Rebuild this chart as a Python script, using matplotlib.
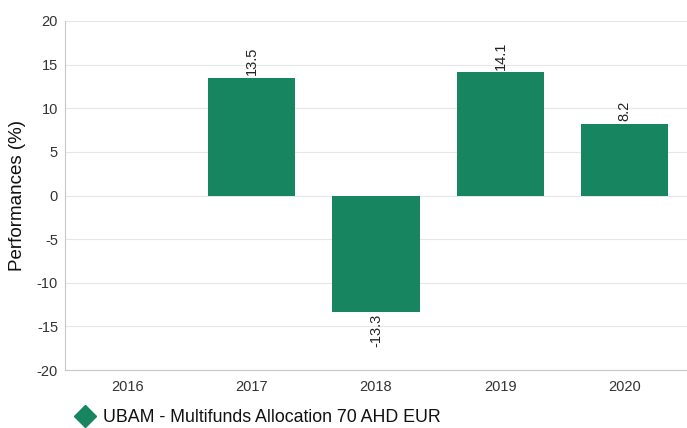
import matplotlib.pyplot as plt
from matplotlib.lines import Line2D
import numpy as np

plt.rcParams['font.family'] = ['Liberation Sans', 'DejaVu Sans']
plt.rcParams['axes.unicode_minus'] = False

# data
years = ['2016', '2017', '2018', '2019', '2020']
perf = [np.nan, 13.5, -13.3, 14.1, 8.2]
fund_name = 'UBAM - Multifunds Allocation 70 AHD EUR'
bar_color = '#178560'

fig = plt.figure(figsize=(6.87, 4.28), dpi=100)
ax = fig.add_axes([65 / 687, 58 / 428, 622 / 687, 349 / 428])

x = np.arange(len(years))
ax.bar(x, perf, width=0.7, color=bar_color, zorder=3)

# rotated value labels
for xi, v in zip(x, perf):
    if np.isnan(v):
        continue
    if v >= 0:
        ax.text(xi, v + 0.3, f'{v:.1f}', rotation=90, ha='center', va='bottom',
                fontsize=10.5, color='#222222')
    else:
        ax.text(xi, v - 0.3, f'{v:.1f}', rotation=90, ha='center', va='top',
                fontsize=10.5, color='#222222')

ax.set_xlim(-0.5, len(years) - 0.5)
ax.set_ylim(-20, 20)
ax.set_yticks(np.arange(-20, 21, 5))
ax.set_xticks(x)
ax.set_xticklabels(years)
ax.tick_params(axis='both', length=0, labelsize=10.5, colors='#333333')
ax.tick_params(axis='x', pad=7)
ax.tick_params(axis='y', pad=5)
ax.set_ylabel('Performances (%)', fontsize=13.5, color='#111111', labelpad=8)

ax.grid(axis='y', color='#e6e6e6', linewidth=0.8, zorder=0)
for s in ['top', 'right']:
    ax.spines[s].set_visible(False)
for s in ['left', 'bottom']:
    ax.spines[s].set_color('#c8c8c8')
    ax.spines[s].set_linewidth(0.8)

# legend
fig.add_artist(Line2D([85 / 687], [1 - 416 / 428], marker='D', markersize=11,
                      color=bar_color, linestyle='none', transform=fig.transFigure))
fig.text(103 / 687, 1 - 417 / 428, fund_name, fontsize=12.8, color='#111111',
         ha='left', va='center')

fig.savefig('out.png', dpi=100)
